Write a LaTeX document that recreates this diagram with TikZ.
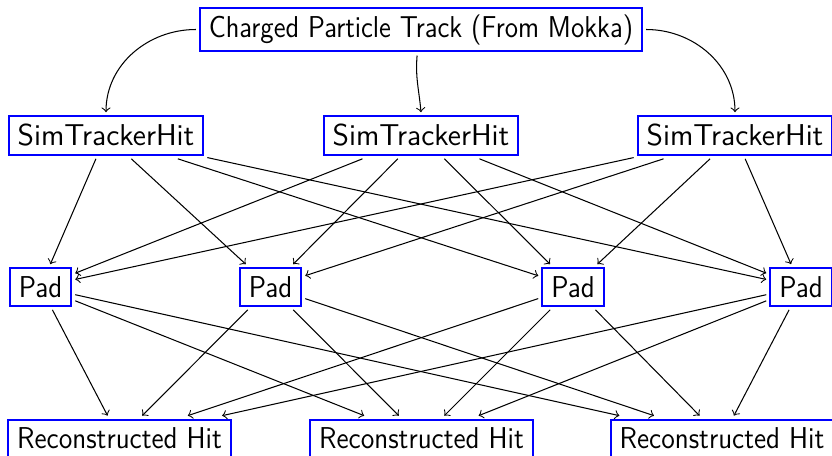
\documentclass[tikz,border=0pt]{standalone}
\usepackage{graphicx}
\newcommand\hsq[2]{\scalebox{#1}[1]{#2}}
\begin{document}
\begin{tikzpicture}[x=0.3846pt,y=-0.3846pt,
  box/.style={draw=blue, thick, fill=white, font=\fontsize{11.6}{14}\selectfont\sffamily,
    inner xsep=3.4pt, inner ysep=3.1pt, outer sep=1.6pt},
  link/.style={->, black}]
\useasboundingbox (0,0) rectangle (832,456);
\node[box, inner ysep=2.6pt] (top) at (421,29.5) {\hsq{0.9}{Charged Particle Track (From Mokka)}};
\node[box] (s1) at (106,135.5) {SimTrackerHit};
\node[box] (s2) at (421,135.5) {SimTrackerHit};
\node[box] (s3) at (735,135.5) {SimTrackerHit};
\node[box] (p1) at (40.5,287) {\hsq{0.92}{Pad}};
\node[box] (p2) at (270.5,287) {\hsq{0.92}{Pad}};
\node[box] (p3) at (573,287) {\hsq{0.92}{Pad}};
\node[box] (p4) at (801,287) {\hsq{0.92}{Pad}};
\node[box] (r1) at (119.5,438.5) {\hsq{0.92}{Reconstructed Hit}};
\node[box] (r2) at (421.5,438.5) {\hsq{0.92}{Reconstructed Hit}};
\node[box] (r3) at (722,438.5) {\hsq{0.92}{Reconstructed Hit}};
\draw[link] (top.west) to[out=180,in=90] (s1.north);
\draw[link] ([xshift=-1.5pt]top.south) to[out=-95,in=95] (s2.north);
\draw[link] (top.east) to[out=0,in=90] (s3.north);
\foreach \s in {s1,s2,s3}
  \foreach \p in {p1,p2,p3,p4}
    \draw[link] (\s) -- (\p);
\foreach \p in {p1,p2,p3,p4}
  \foreach \r in {r1,r2,r3}
    \draw[link] (\p) -- (\r);
\end{tikzpicture}
\end{document}
